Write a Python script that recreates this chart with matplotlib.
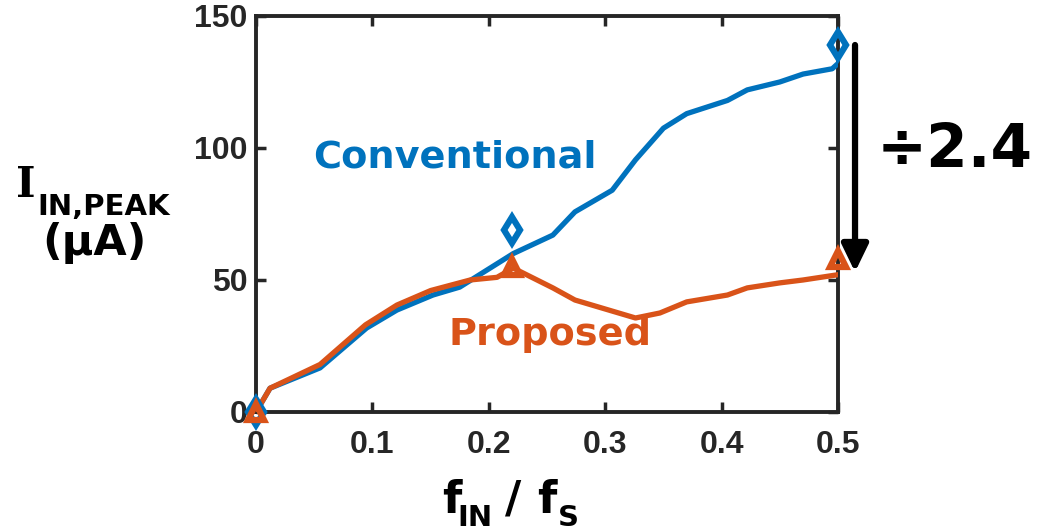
import numpy as np
import matplotlib
matplotlib.use("Agg")
import matplotlib.pyplot as plt

# peak input current vs normalised input frequency
f_conv = [0, 0.012, 0.055, 0.095, 0.121, 0.152, 0.175, 0.221, 0.255, 0.274,
          0.306, 0.326, 0.35, 0.37, 0.405, 0.422, 0.45, 0.47, 0.495, 0.5]
i_conv = [0, 9, 16.7, 31.8, 38.6, 44.3, 47.3, 60, 67, 75.8,
          84, 95.5, 107.5, 113, 118, 122, 125, 128, 130, 132]

f_prop = [0, 0.012, 0.055, 0.094, 0.121, 0.15, 0.184, 0.207, 0.221, 0.255,
          0.274, 0.326, 0.347, 0.37, 0.405, 0.422, 0.45, 0.47, 0.5]
i_prop = [0, 9, 18, 33, 40.5, 46, 50, 51, 54.5, 47,
          42.4, 35.6, 37.5, 41.7, 44.3, 47, 48.9, 50, 52]

# measured points
f_meas = [0, 0.22, 0.5]
i_meas_conv = [0, 69, 139]
i_meas_prop = [0, 55, 58]

xticks = [0, 0.1, 0.2, 0.3, 0.4, 0.5]
yticks = [0, 50, 100, 150]

blue = "#0072BD"
orange = "#D95319"
dark = "#262626"

fig = plt.figure(figsize=(10.4, 5.32), dpi=100)
ax = fig.add_axes([0.2462, 0.2256, 0.5596, 0.7444])

ax.plot(f_conv, i_conv, color=blue, lw=3.8, solid_joinstyle="round", zorder=3)
ax.plot(f_prop, i_prop, color=orange, lw=3.8, solid_joinstyle="round", zorder=4)
ax.plot(f_meas, i_meas_conv, ls="none", marker="d", ms=13, mfc="none",
        mec=blue, mew=4.5, clip_on=False, zorder=5)
ax.plot(f_meas, i_meas_prop, ls="none", marker="^", ms=11, mfc="none",
        mec=orange, mew=4.5, clip_on=False, zorder=6)

ax.set_xlim(0, 0.5)
ax.set_ylim(0, 150)
ax.set_xticks(xticks)
ax.set_yticks(yticks)
ax.set_xticklabels(["0", "0.1", "0.2", "0.3", "0.4", "0.5"])
ax.set_yticklabels([str(v) for v in yticks])
ax.tick_params(direction="in", length=7, width=2.5, colors=dark,
               top=True, right=True, labelsize=23)
ax.tick_params(axis="x", pad=13)
ax.tick_params(axis="y", pad=6)
for lab in ax.get_xticklabels() + ax.get_yticklabels():
    lab.set_fontweight("bold")
    lab.set_family("Liberation Sans")
for sp in ax.spines.values():
    sp.set_linewidth(2.8)
    sp.set_color(dark)

ax.text(0.171, 96.5, "Conventional", color=blue, fontsize=27.5, fontweight="bold",
        ha="center", va="center")
ax.text(0.253, 29, "Proposed", color=orange, fontsize=27.5, fontweight="bold",
        ha="center", va="center")

# ratio arrow
ax.annotate("", xy=(0.5146, 53), xytext=(0.5146, 139), xycoords="data",
            arrowprops=dict(arrowstyle="-|>,head_length=1.65,head_width=0.8",
                            color="black", lw=4.5, shrinkA=0, shrinkB=0),
            annotation_clip=False)
fig.text(0.843, 0.718, "\u00f72.4", fontsize=43, fontweight="bold",
         ha="left", va="center")

# axis labels
fig.text(0.015, 0.652, "I", fontsize=30, fontweight="bold",
         family="DejaVu Serif", ha="left", va="center")
fig.text(0.036, 0.61, "IN,PEAK", fontsize=21, fontweight="bold",
         ha="left", va="center")
fig.text(0.091, 0.543, "(\u00b5A)", fontsize=31, fontweight="bold",
         ha="center", va="center")

fig.text(0.434, 0.06, "f", fontsize=32, fontweight="bold", ha="center", va="center")
fig.text(0.440, 0.026, "IN", fontsize=21, fontweight="bold", ha="left", va="center")
fig.text(0.493, 0.06, "/", fontsize=32, fontweight="bold", ha="center", va="center")
fig.text(0.526, 0.06, "f", fontsize=32, fontweight="bold", ha="center", va="center")
fig.text(0.536, 0.026, "S", fontsize=21, fontweight="bold", ha="left", va="center")

fig.savefig("out.png", dpi=100)
